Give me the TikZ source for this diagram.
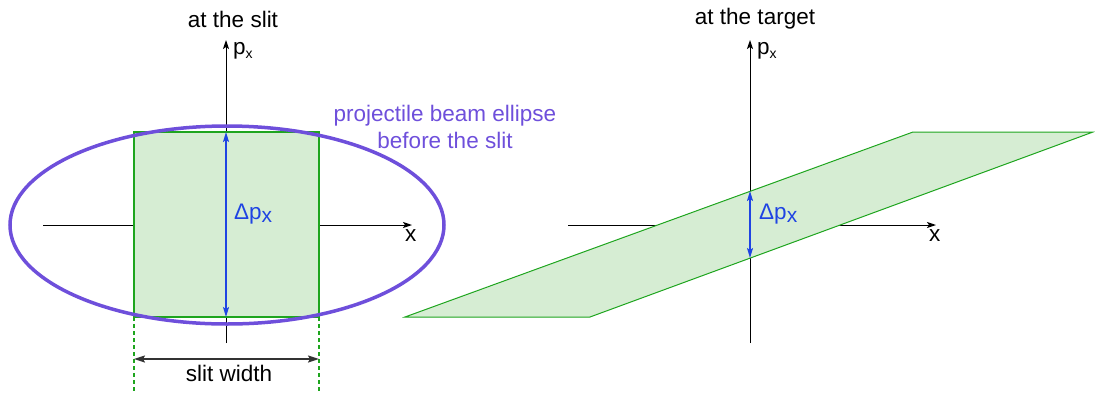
\documentclass[tikz,border=0pt]{standalone}
\usepackage{fontspec}
\setmainfont{Liberation Sans}
\usetikzlibrary{arrows.meta}
\definecolor{gstroke}{HTML}{1EA51E}
\definecolor{gfill}{HTML}{D6EDD3}
\definecolor{purp}{HTML}{6E4FDB}
\definecolor{blu}{HTML}{1F44E3}
\tikzset{
  axis/.style={black, line width=1pt, -{Stealth[length=9pt,width=6pt,inset=2pt]}},
  band/.style={draw=gstroke, fill=gfill, line width=1pt},
  dpx/.style={blu, line width=1.4pt, {Stealth[length=10pt,width=6pt,inset=2pt]}-{Stealth[length=10pt,width=6pt,inset=2pt]}},
  lbl/.style={inner sep=0pt, font=\fontsize{22.5}{27}\selectfont},
  bl/.style={lbl, text=blu},
}
\newcommand{\dpxtxt}{Δp\raisebox{-0.3ex}{\fontsize{21}{24}\selectfont x}}
\newcommand{\pxtxt}{p\raisebox{-0.35ex}{\fontsize{14}{16}\selectfont x}}
\begin{document}
\begin{tikzpicture}[x=1pt,y=-1pt]
\useasboundingbox (0,0) rectangle (1095,397);
% ---------- left panel ----------
\coordinate (lxs) at (43,225);
\coordinate (lxe) at (412,225);
\coordinate (lys) at (226,343);
\coordinate (lye) at (226,40);
\coordinate (rtl) at (134,132);
\coordinate (rbr) at (319,317);
\coordinate (dtop) at (226,132);
\coordinate (dbot) at (226,317);
\draw[axis] (lxs) -- (lxe);
\draw[axis] (lys) -- (lye);
\draw[band, line width=2pt] (rtl) rectangle (rbr);
\draw[purp, line width=3.5pt] (227,225) ellipse [x radius=217, y radius=99];
\draw[dpx] (dtop) -- (dbot);
\node[bl, anchor=west] (ldp) at (234,214) {\dpxtxt};
\node[lbl, anchor=north west] (lx) at (405,229) {x};
\node[lbl, anchor=west] (lp) at (233,51) {\pxtxt};
\node[lbl] (ltitle) at (233,19) {at the slit};
\node[lbl, text=purp, align=center, font=\fontsize{22.5}{27}\selectfont] (ell) at (445,127) {projectile beam ellipse\\before the slit};
% slit width
\coordinate (d1a) at (134,317);
\coordinate (d1b) at (134,392);
\coordinate (d2a) at (319,317);
\coordinate (d2b) at (319,392);
\draw[gstroke, line width=1.5pt, dash pattern=on 4pt off 3pt] (d1a) -- (d1b);
\draw[gstroke, line width=1.5pt, dash pattern=on 4pt off 3pt] (d2a) -- (d2b);
\coordinate (sw1) at (134,359);
\coordinate (sw2) at (319,359);
\draw[black!80, line width=1.8pt, {Stealth[length=11pt,width=7pt,inset=2pt]}-{Stealth[length=11pt,width=7pt,inset=2pt]}] (sw1) -- (sw2);
\node[lbl] (swl) at (229,373) {slit width};
% ---------- right panel ----------
\coordinate (rxs) at (568,225);
\coordinate (rxe) at (936,225);
\coordinate (rys) at (750,343);
\coordinate (rye) at (750,40);
\coordinate (p1) at (405,317);
\coordinate (p2) at (590,317);
\coordinate (p3) at (1093,132);
\coordinate (p4) at (913,132);
\draw[axis] (rxs) -- (rxe);
\draw[axis] (rys) -- (rye);
\draw[band] (p1) -- (p2) -- (p3) -- (p4) -- cycle;
\coordinate (rdt) at (750,191);
\coordinate (rdb) at (750,258);
\draw[dpx] (rdt) -- (rdb);
\node[bl, anchor=west] (rdp) at (759,214) {\dpxtxt};
\node[lbl, anchor=north west] (rx) at (929,229) {x};
\node[lbl, anchor=west] (rp) at (757,51) {\pxtxt};
\node[lbl] (rtitle) at (755,19) {at the target};
\end{tikzpicture}
\end{document}
